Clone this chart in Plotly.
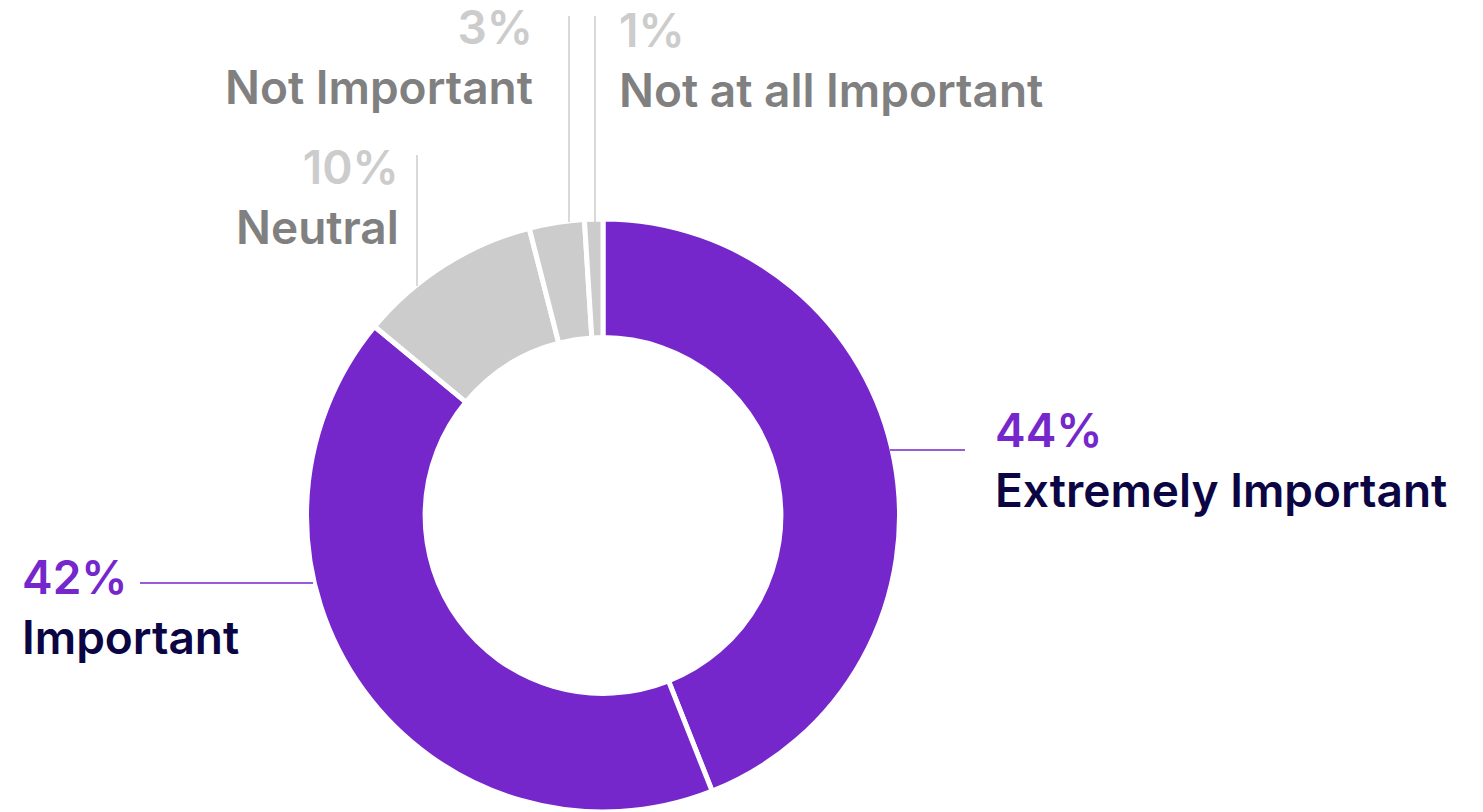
import plotly.graph_objects as go

# Survey responses: share of respondents per importance rating
labels = ["Extremely Important", "Important", "Neutral", "Not Important", "Not at all Important"]
values = [44, 42, 10, 3, 1]

PURPLE = "#7527CC"
GREY = "#CCCCCC"
NAVY = "#0B0643"
DARK_GREY = "#808080"
slice_colors = [PURPLE, PURPLE, GREY, GREY, GREY]
pct_colors = [PURPLE, PURPLE, GREY, GREY, GREY]
name_colors = [NAVY, NAVY, DARK_GREY, DARK_GREY, DARK_GREY]

W, H = 1483, 812
FONT = "Inter"


def px(x):
    return x / W


def py(y):
    return 1 - y / H


fig = go.Figure(
    go.Pie(
        labels=labels,
        values=values,
        hole=0.6,
        sort=False,
        direction="clockwise",
        rotation=0,
        textinfo="none",
        marker=dict(colors=slice_colors, line=dict(color="white", width=5)),
        domain=dict(x=[px(306), px(900)], y=[0, py(219)]),
        showlegend=False,
    )
)

# label placement (pixel anchor, alignment) for each slice
label_pos = [
    (993, 400, "left"),
    (20, 547, "left"),
    (401, 137, "right"),
    (535, -3, "right"),
    (617, 0, "left"),
]
# leader lines for each slice (x0, y0, x1, y1) in pixels
leaders = [
    (890, 450, 965, 450),
    (140, 583, 313, 583),
    (417, 155, 417, 286),
    (569, 16, 569, 222),
    (595, 16, 595, 222),
]

annotations = []
for lab, val, pc, nc, (x, y, anchor) in zip(labels, values, pct_colors, name_colors, label_pos):
    text = (
        f"<span style='color:{pc}'>{val}%</span><br>"
        f"<span style='color:{nc}'>{lab}</span>"
    )
    annotations.append(
        dict(
            x=px(x), y=py(y), xref="paper", yref="paper",
            xanchor=anchor, yanchor="top", align=anchor,
            text=text, showarrow=False,
            font=dict(family=FONT, size=46, weight=600),
        )
    )

shapes = []
for col, (x0, y0, x1, y1) in zip(pct_colors, leaders):
    shapes.append(
        dict(
            type="line", xref="paper", yref="paper",
            x0=px(x0), y0=py(y0), x1=px(x1), y1=py(y1),
            line=dict(color=col, width=1.5),
        )
    )

fig.update_layout(
    width=W, height=H,
    margin=dict(l=0, r=0, t=0, b=0),
    paper_bgcolor="white", plot_bgcolor="white",
    annotations=annotations, shapes=shapes,
)

fig.write_html("out.html")
